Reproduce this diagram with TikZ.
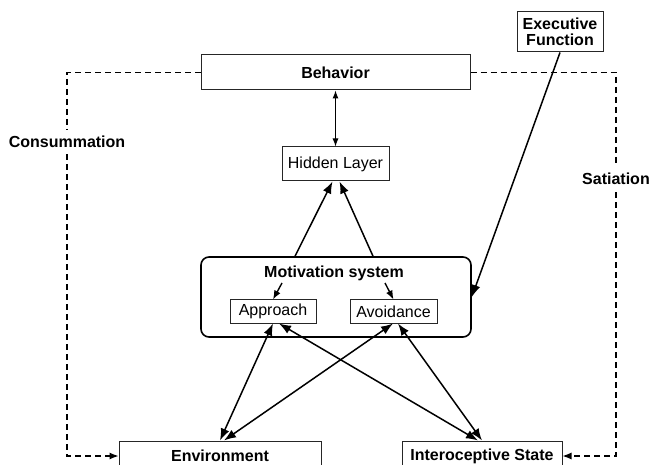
\documentclass[tikz,border=0pt]{standalone}
\usepackage{fontspec}
\setmainfont{Liberation Sans}
\usetikzlibrary{arrows.meta,calc}
\begin{document}
\begin{tikzpicture}[x=1pt,y=-1pt,
  box/.style={draw=black!85,line width=1pt,inner sep=0pt,font=\fontsize{16}{18}\selectfont},
  lbl/.style={inner sep=0pt,font=\fontsize{16}{18}\selectfont\bfseries},
  thick arrow/.style={line width=1.5pt,{Latex[length=12pt,width=9pt]}-{Latex[length=12pt,width=9pt]}},
  one arrow/.style={line width=1.5pt,-{Latex[length=12pt,width=9pt]}},
  small arrow/.style={line width=1.4pt,-{Latex[length=9pt,width=7pt]}},
  dash line/.style={line width=1.2pt,dash pattern=on 6pt off 4pt},
  dash arrow/.style={dash line,-{Latex[length=9pt,width=7pt]}}]
\useasboundingbox (0,0) rectangle (651,465);
\clip (0,0) rectangle (651,465);
% nodes
\node[box,minimum width=269pt,minimum height=35pt,font=\fontsize{16}{18}\selectfont\bfseries] (beh) at (335.5,72.5) {Behavior};
\node[box,minimum width=86pt,minimum height=40pt,align=center,font=\fontsize{16}{18}\selectfont\bfseries] (exec) at (560,32) {Executive\\[-2pt]Function};
\node[box,minimum width=107pt,minimum height=34pt] (hid) at (335.5,164) {Hidden Layer};
\node[draw=black,line width=1.6pt,rounded corners=8pt,minimum width=270pt,minimum height=80pt,inner sep=0pt] (mot) at (336,297) {};
\node[lbl] (motl) at (334,273) {Motivation system};
\node[box,minimum width=86pt,minimum height=23pt] (appr) at (273,311.5) {Approach};
\node[box,minimum width=87pt,minimum height=23pt] (avoid) at (393.5,311.5) {Avoidance};
\node[box,minimum width=202pt,minimum height=30pt,font=\fontsize{16}{18}\selectfont\bfseries] (env) at (220,456) {Environment};
\node[box,minimum width=160pt,minimum height=30pt,font=\fontsize{16}{18}\selectfont\bfseries] (intero) at (482,456) {Interoceptive State};
\node[lbl,inner ysep=6pt] (cons) at (67,142) {Consummation};
\node[lbl,inner ysep=7pt] (sat) at (616,179) {Satiation};
\coordinate (m1) at (282,283);
\coordinate (m2) at (385,283);
% connectors
\draw[line width=1pt,{Latex[length=8pt,width=6pt]}-{Latex[length=8pt,width=6pt]}] (beh.south) -- (hid.north);
\draw[one arrow] ([xshift=-41pt]mot.north) -- ([xshift=-3pt]hid.south);
\draw[one arrow] ([xshift=37pt]mot.north) -- ([xshift=4pt]hid.south);
\draw[one arrow] (exec.south) -- (mot.east);
\draw[small arrow] (m1) -- (appr.north);
\draw[small arrow] (m2) -- (avoid.north);
\draw[thick arrow] (appr.south) -- (env.north);
\draw[thick arrow] ([xshift=6pt]appr.south) -- ([xshift=-4pt]intero.north);
\draw[thick arrow] ([xshift=-0.5pt]avoid.south) -- ([xshift=4pt]env.north);
\draw[thick arrow] ([xshift=4.5pt]avoid.south) -- (intero.north);
\draw[dash line] (beh.west) -| (cons.north);
\draw[dash arrow] (cons.south) |- (env.west);
\draw[dash line] (beh.east) -| (sat.north);
\draw[dash arrow] (sat.south) |- (intero.east);
\end{tikzpicture}
\end{document}
